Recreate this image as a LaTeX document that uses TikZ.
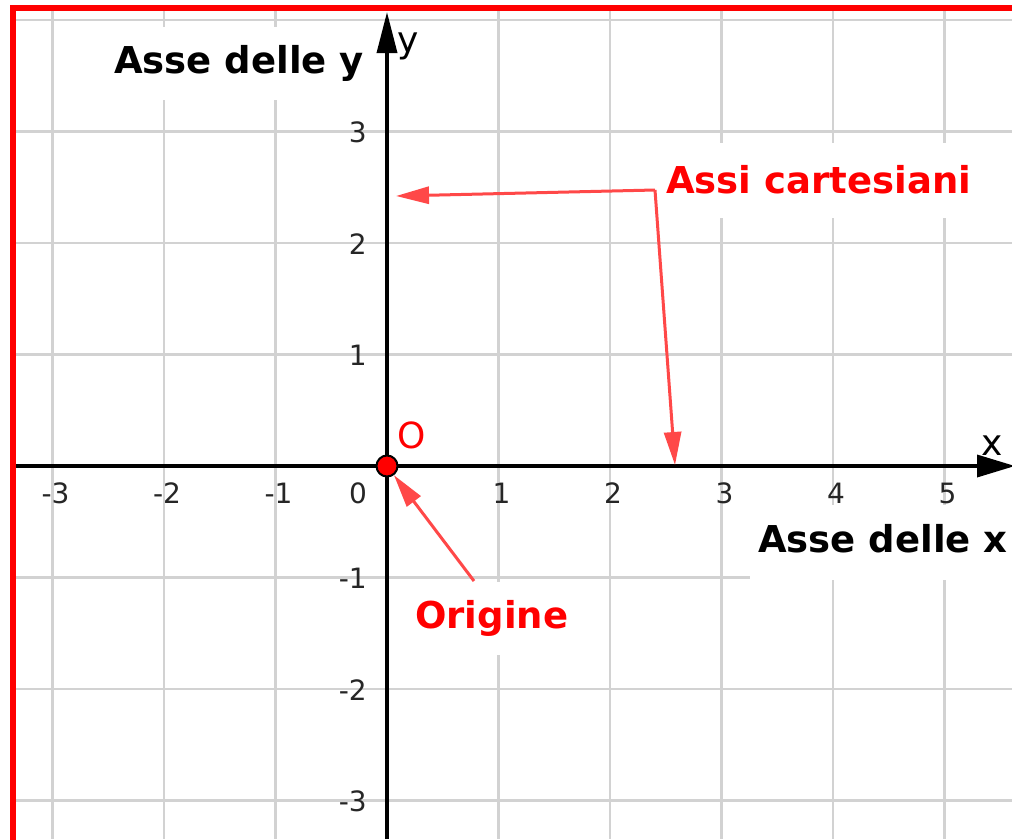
\documentclass[tikz,border=0pt]{standalone}
\usepackage{fontspec}
\setmainfont{DejaVu Sans}
\usetikzlibrary{arrows.meta}
\definecolor{gridgray}{RGB}{210,210,210}
\definecolor{arrowred}{RGB}{255,72,72}
\definecolor{labelred}{RGB}{255,0,0}
\begin{document}
\begin{tikzpicture}[x=1pt,y=-1pt,
  gridline/.style={gridgray,line width=2.2pt},
  axisline/.style={black,line width=3.5pt},
  yaxistip/.style={-{Triangle[length=41pt,width=20pt]}},
  xaxistip/.style={-{Triangle[length=38pt,width=22pt]}},
  redarrow/.style={arrowred,line width=3pt,-{Triangle[length=33pt,width=17pt]}},
  bigbold/.style={font=\bfseries\fontsize{37}{40}\selectfont,inner sep=0pt},
  ticklab/.style={font=\fontsize{28}{30}\selectfont,inner sep=0pt,text=black!85},
  axlab/.style={font=\fontsize{36}{38}\selectfont,inner sep=0pt},
  whitebox/.style={fill=white,draw=none}
]
\useasboundingbox (0,0) rectangle (1012,839);
\clip (0,0) rectangle (1012,839);
\fill[white] (0,0) rectangle (1012,839);

% grid
\foreach \i in {-3,-2,-1,1,2,3,4,5}
  \draw[gridline] ({387+111.5*\i},11) -- ({387+111.5*\i},839);
\foreach \j in {4,3,2,1,-1,-2,-3}
  \draw[gridline] (16,{466-111.5*\j}) -- (1012,{466-111.5*\j});

% white label backgrounds
\fill[whitebox] (100,27) rectangle (372,100);
\fill[whitebox] (660,143) rectangle (1012,218);
\fill[whitebox] (750,505) rectangle (1012,580);
\fill[whitebox] (405,582) rectangle (578,655);

% axes
\draw[axisline,xaxistip] (16,466) -- (1015,466);
\draw[axisline,yaxistip] (387,839) -- (387,12);
\node[axlab,anchor=base west] (xlab) at (981,455) {x};
\node[axlab,anchor=base west] (ylab) at (397,52) {y};

% tick labels
\foreach \i in {-3,-2,-1,1,2,3,4,5}
  \node[ticklab,anchor=base] (xt\i) at ({390+111.5*\i},503) {\ifnum\i<0 -\number\numexpr-\i\relax\else\i\fi};
\node[ticklab,anchor=base] (xt0) at (358,503) {0};
\foreach \j in {3,2,1,-1,-2,-3}
  \node[ticklab,anchor=base east] (yt\j) at (367,{466-111.5*\j+11}) {\ifnum\j<0 -\number\numexpr-\j\relax\else\j\fi};

% labels
\node[bigbold,anchor=base] (asy) at (239,73) {Asse delle y};
\node[bigbold,anchor=base west] (asx) at (758,552) {Asse delle x};
\node[bigbold,anchor=base west,text=labelred] (assi) at (666,193) {Assi cartesiani};
\node[bigbold,anchor=base west,text=labelred] (orig) at (415,628) {Origine};

% origin
\node[circle,fill=labelred,draw=black,line width=2pt,minimum size=21pt,inner sep=0pt] (Odot) at (387,466) {};
\node[axlab,anchor=base west,text=labelred] (Olab) at (397,448) {O};

% red arrows
\coordinate (corner) at (655,190);
\coordinate (ytarget) at (396,196);
\coordinate (xtarget) at (675,465);
\coordinate (ostart) at (474,581);
\draw[redarrow] (corner) -- (ytarget);
\draw[redarrow] (corner) -- (xtarget);
\draw[redarrow] (ostart) -- (Odot);

% red frame
\draw[labelred,line width=6pt,line join=miter] (13,845) -- (13,8) -- (1020,8);
\end{tikzpicture}
\end{document}
